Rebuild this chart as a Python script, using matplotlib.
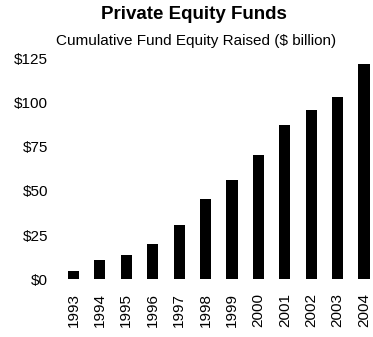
import matplotlib
matplotlib.use("Agg")
import matplotlib.pyplot as plt
from matplotlib.ticker import FuncFormatter

plt.rcParams['font.family'] = ['Liberation Sans', 'DejaVu Sans']

# cumulative equity raised by year, $ billion
years = ["1993", "1994", "1995", "1996", "1997", "1998",
         "1999", "2000", "2001", "2002", "2003", "2004"]
equity_raised = [5, 11, 14, 20, 31, 45.5, 56, 70.5, 87.5, 95.5, 103, 121.5]
y_ticks = [0, 25, 50, 75, 100, 125]


def dollar_fmt(v, pos):
    return "$%d" % v


def plot_funds():
    fig = plt.figure(figsize=(3.73, 3.37), dpi=100)
    ax = fig.add_axes([0.161, 0.171, 0.839, 0.656])

    x = list(range(len(years)))
    ax.bar(x, equity_raised, width=0.42, color="black")

    ax.set_xlim(-0.51, 11.34)
    ax.set_ylim(0, 125)
    ax.set_yticks(y_ticks)
    ax.yaxis.set_major_formatter(FuncFormatter(dollar_fmt))
    ax.set_xticks(x)
    ax.set_xticklabels(years, rotation=90)

    ax.tick_params(axis="y", length=0, pad=8.6, labelsize=11)
    ax.tick_params(axis="x", length=0, pad=10, labelsize=11)
    for s in ax.spines.values():
        s.set_visible(False)

    fig.text(0.52, 0.958, "Private Equity Funds", ha="center", va="center",
             fontsize=13.5, fontweight="bold")
    fig.text(0.525, 0.878, "Cumulative Fund Equity Raised ($ billion)",
             ha="center", va="center", fontsize=11)

    fig.savefig("out.png", dpi=100, facecolor="white")


def main():
    plot_funds()


if __name__ == "__main__":
    main()
